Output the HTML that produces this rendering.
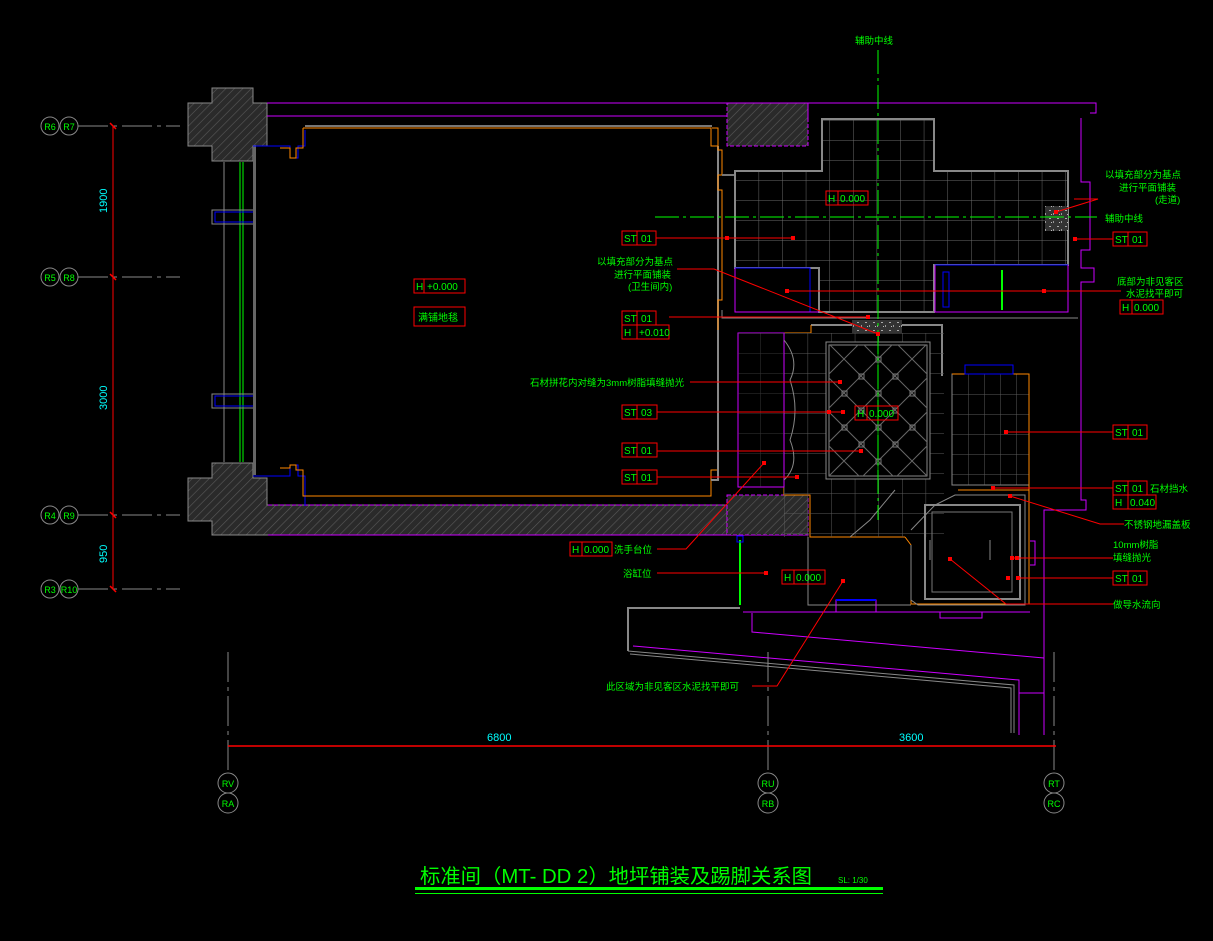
<!DOCTYPE html>
<html><head><meta charset="utf-8"><style>
html,body{margin:0;padding:0;background:#000;}
svg{display:block}
text{font-family:"Liberation Sans","Noto Sans CJK SC",sans-serif;fill:#00ff00}
.c{fill:#00ffff}
</style></head><body>
<svg width="1213" height="941" viewBox="0 0 1213 941" xmlns="http://www.w3.org/2000/svg" font-size="10">
<defs>
<pattern id="h" width="6" height="6" patternUnits="userSpaceOnUse" patternTransform="rotate(45)">
<rect width="6" height="6" fill="#2a2a2a"/><line x1="0" y1="0" x2="0" y2="6" stroke="#5a5a5a" stroke-width="1.2"/>
</pattern>
<pattern id="g" x="735" y="120" width="23.6" height="20" patternUnits="userSpaceOnUse">
<path d="M0 0H23.6M0 0V20" stroke="#6a6a6a" stroke-width="1" fill="none"/>
</pattern>
<pattern id="g2" x="784" y="333" width="23.6" height="20" patternUnits="userSpaceOnUse">
<path d="M0 0H23.6M0 0V20" stroke="#5a5a5a" stroke-width="1" fill="none"/>
</pattern>
<pattern id="g3" x="952" y="374" width="16" height="20" patternUnits="userSpaceOnUse">
<path d="M0 0H16M0 0V20" stroke="#5a5a5a" stroke-width="1" fill="none"/>
</pattern>
<clipPath id="dc"><rect x="829" y="345" width="98" height="131"/></clipPath>
<pattern id="n" width="8" height="8" patternUnits="userSpaceOnUse">
<rect width="8" height="8" fill="#333"/><rect x="1" y="2" width="2" height="1" fill="#aaa"/><rect x="5" y="5" width="1" height="2" fill="#999"/><rect x="3" y="6" width="1" height="1" fill="#bbb"/>
</pattern>
</defs>

<!-- left grid axes -->
<g stroke="#888" stroke-width="1" stroke-dasharray="30,5,4,5">
<line x1="78" y1="126" x2="180" y2="126"/><line x1="78" y1="277" x2="180" y2="277"/>
<line x1="78" y1="515" x2="180" y2="515"/><line x1="78" y1="589" x2="180" y2="589"/>
</g>
<line x1="113" y1="126" x2="113" y2="589" stroke="#ff0000"/>
<g stroke="#ff0000" stroke-width="1.5">
<line x1="110" y1="123" x2="116" y2="129"/><line x1="110" y1="274" x2="116" y2="280"/>
<line x1="110" y1="512" x2="116" y2="518"/><line x1="110" y1="586" x2="116" y2="592"/>
</g>
<text class="c" transform="translate(107,213) rotate(-90)" font-size="11">1900</text>
<text class="c" transform="translate(107,410) rotate(-90)" font-size="11">3000</text>
<text class="c" transform="translate(107,563) rotate(-90)" font-size="11">950</text>
<g fill="none" stroke="#888">
<circle cx="50" cy="126" r="9"/><circle cx="69" cy="126" r="9"/>
<circle cx="50" cy="277" r="9"/><circle cx="69" cy="277" r="9"/>
<circle cx="50" cy="515" r="9"/><circle cx="69" cy="515" r="9"/>
<circle cx="50" cy="589" r="9"/><circle cx="69" cy="589" r="9"/>
</g>
<g font-size="9" text-anchor="middle">
<text x="50" y="130">R6</text><text x="69" y="130">R7</text>
<text x="50" y="281">R5</text><text x="69" y="281">R8</text>
<text x="50" y="519">R4</text><text x="69" y="519">R9</text>
<text x="50" y="593">R3</text><text x="69" y="593">R10</text>
</g>

<!-- columns -->
<path d="M212 88H253V103H267V146H253V161H212V146H188V103H212Z" fill="url(#h)" stroke="#888"/>
<path d="M212 463H253V478H267V505H727V535H212V521H188V478H212Z" fill="url(#h)" stroke="#888"/>
<path d="M268 505H727" stroke="#cc00ff" stroke-dasharray="4,2"/>
<path d="M268 535H808" stroke="#cc00ff"/>
<rect x="727" y="103" width="81" height="43" fill="url(#h)" stroke="#cc00ff" stroke-dasharray="4,2"/>
<rect x="727" y="495" width="81" height="40" fill="url(#h)" stroke="#cc00ff" stroke-dasharray="4,2"/>
<path d="M267 103H1096V113H1090" fill="none" stroke="#cc00ff"/>
<path d="M267 116H727" stroke="#cc00ff"/>
<path d="M727 103H808V118" fill="none" stroke="#cc00ff"/>
<!-- window -->
<line x1="224" y1="162" x2="224" y2="462" stroke="#888"/>
<line x1="240" y1="162" x2="240" y2="462" stroke="#00ff00"/>
<line x1="243" y1="162" x2="243" y2="462" stroke="#00ff00"/>
<rect x="212" y="210" width="42" height="14" fill="none" stroke="#888"/>
<rect x="215" y="212" width="40" height="10" fill="none" stroke="#0000ff"/>
<rect x="212" y="394" width="42" height="14" fill="none" stroke="#888"/>
<rect x="215" y="396" width="40" height="10" fill="none" stroke="#0000ff"/>
<rect x="253" y="145" width="3" height="330" fill="#666"/>
<path d="M253 146H290V158H298V146H305V130" fill="none" stroke="#0000ff"/>
<path d="M253 476H290V465H298V476H305V506" fill="none" stroke="#0000ff"/>
<!-- bedroom -->
<path d="M303 128H711V146H718V160" fill="none" stroke="#ff8800"/>
<path d="M305 126H712" stroke="#777" stroke-width="2"/>
<path d="M280 148H290V158H296V148H303V128" fill="none" stroke="#ff8800"/>
<path d="M280 468H290V465H296V470H303V496H711V470H718" fill="none" stroke="#ff8800"/>
<path d="M718 146V480H711" fill="none" stroke="#888" stroke-width="2"/>
<path d="M712 128H718V150H722V175H718V190H722V300H718V330" fill="none" stroke="#ff8800"/>
<path d="M722 175H735" stroke="#777" stroke-width="2"/>

<!-- corridor tiles -->
<path d="M822 119H934V171H1068V265H934V312H819V268H735V171H822Z" fill="url(#g)" stroke="#888" stroke-width="2"/>
<rect x="735" y="268" width="75" height="44" fill="#000" stroke="#0000ff"/>
<path d="M735 268V312H819" fill="none" stroke="#cc00ff"/>
<rect x="935" y="265" width="133" height="47" fill="#000" stroke="#0000ff"/>
<path d="M935 265V312H1068V265" fill="none" stroke="#cc00ff"/>
<rect x="943" y="272" width="6" height="35" fill="none" stroke="#0000ff"/>
<line x1="1002" y1="270" x2="1002" y2="310" stroke="#00ff00" stroke-width="2"/>
<rect x="1045" y="206" width="23" height="25" fill="url(#n)"/>
<path d="M722 310V318H1078" fill="none" stroke="#888"/>

<!-- right magenta walls -->
<path d="M1081 118V182H1090V250H1081V268H1094V282H1081V500H1086V510H1044V735" fill="none" stroke="#cc00ff"/>
<path d="M1030 541H1035V565H1030" fill="none" stroke="#cc00ff"/>

<!-- bathroom -->
<path d="M811 325H942V376" fill="none" stroke="#888" stroke-width="2"/>
<path d="M811 325V333H784V495H810V537H905" fill="none" stroke="#ff8800"/>
<rect x="784" y="333" width="160" height="204" fill="url(#g2)"/>
<rect x="738" y="333" width="46" height="154" fill="#000" stroke="#cc00ff"/>
<rect x="738" y="333" width="46" height="154" fill="url(#g2)" opacity="0.6"/>
<path d="M784 340Q800 360 790 380Q800 410 790 440Q800 465 784 480" fill="none" stroke="#888"/>
<rect x="826" y="342" width="104" height="137" fill="#000" stroke="#888"/>
<rect x="829" y="345" width="98" height="131" fill="none" stroke="#888"/>
<g clip-path="url(#dc)" stroke="#666" fill="none">
<path d="M723 340L863 480M757 340L897 480M791 340L931 480M825 340L965 480M859 340L999 480M893 340L1033 480"/>
<path d="M863 340L723 480M897 340L757 480M931 340L791 480M965 340L825 480M999 340L859 480M1033 340L893 480"/>
<path d="M878 345V476" stroke="#00aa00"/>
</g>
<g fill="none" stroke="#777">
<rect x="876" y="357" width="5" height="5"/><rect x="859" y="374" width="5" height="5"/><rect x="893" y="374" width="5" height="5"/>
<rect x="842" y="391" width="5" height="5"/><rect x="876" y="391" width="5" height="5"/><rect x="910" y="391" width="5" height="5"/>
<rect x="859" y="408" width="5" height="5"/><rect x="893" y="408" width="5" height="5"/>
<rect x="842" y="425" width="5" height="5"/><rect x="876" y="425" width="5" height="5"/><rect x="910" y="425" width="5" height="5"/>
<rect x="859" y="442" width="5" height="5"/><rect x="893" y="442" width="5" height="5"/>
<rect x="876" y="459" width="5" height="5"/>
</g>
<rect x="852" y="320" width="50" height="13" fill="url(#n)"/>
<!-- shower -->
<rect x="952" y="374" width="77" height="111" fill="url(#g3)" stroke="#888"/>
<path d="M952 374H1029V510" fill="none" stroke="#ff8800"/>
<rect x="965" y="365" width="48" height="9" fill="none" stroke="#0000ff"/>
<!-- tub -->
<path d="M905 537L911 545V604H1029V490H958" fill="none" stroke="#ff8800"/>
<path d="M911 545V600L918 605H1025V495H955L935 505L911 530" fill="none" stroke="#888"/>
<path d="M925 505H1020V599H925V525Z" fill="none" stroke="#888" stroke-width="2"/>
<path d="M932 512H1012V592H932V530Z" fill="none" stroke="#777"/>
<line x1="930" y1="540" x2="930" y2="560" stroke="#888"/>
<line x1="990" y1="540" x2="990" y2="560" stroke="#888"/>
<path d="M808 537V605H911" fill="none" stroke="#888"/>
<path d="M895 490L870 520L850 537" fill="none" stroke="#888"/>
<rect x="836" y="600" width="40" height="12" fill="none" stroke="#cc00ff"/>
<line x1="836" y1="600" x2="876" y2="600" stroke="#0000ff" stroke-width="2"/>
<rect x="940" y="612" width="42" height="6" fill="none" stroke="#cc00ff"/>
<line x1="740" y1="540" x2="740" y2="605" stroke="#00ff00" stroke-width="2"/>
<rect x="737" y="536" width="6" height="6" fill="none" stroke="#0000ff"/>
<path d="M743 612H1030" stroke="#cc00ff"/>
<!-- bottom sloped area -->
<path d="M628 651V608H740" fill="none" stroke="#888" stroke-width="2"/>
<path d="M628 651L1014 685V733" fill="none" stroke="#888"/>
<path d="M630 654L1011 688V733" fill="none" stroke="#888"/>
<path d="M752 613V632L1044 658" fill="none" stroke="#cc00ff"/>
<path d="M633 646L1019 680V735" fill="none" stroke="#cc00ff"/>
<path d="M1019 693H1044" stroke="#cc00ff"/>

<!-- center lines -->
<line x1="878" y1="50" x2="878" y2="520" stroke="#00ff00" stroke-dasharray="24,4,3,4"/>
<line x1="655" y1="217" x2="1097" y2="217" stroke="#00ff00" stroke-dasharray="24,4,3,4"/>

<!-- bottom dimension -->
<g stroke="#888" stroke-dasharray="30,5,4,5">
<line x1="228" y1="652" x2="228" y2="775"/><line x1="768" y1="652" x2="768" y2="775"/><line x1="1054" y1="652" x2="1054" y2="775"/>
</g>
<line x1="228" y1="746" x2="1056" y2="746" stroke="#ff0000" stroke-width="1.5"/>
<text class="c" x="487" y="741" font-size="11">6800</text>
<text class="c" x="899" y="741" font-size="11">3600</text>
<g fill="none" stroke="#888">
<ellipse cx="228" cy="783" rx="10" ry="10"/><ellipse cx="228" cy="803" rx="10" ry="10"/>
<ellipse cx="768" cy="783" rx="10" ry="10"/><ellipse cx="768" cy="803" rx="10" ry="10"/>
<ellipse cx="1054" cy="783" rx="10" ry="10"/><ellipse cx="1054" cy="803" rx="10" ry="10"/>
</g>
<g font-size="9" text-anchor="middle">
<text x="228" y="787">RV</text><text x="228" y="807">RA</text>
<text x="768" y="787">RU</text><text x="768" y="807">RB</text>
<text x="1054" y="787">RT</text><text x="1054" y="807">RC</text>
</g>

<!-- title -->
<text x="420" y="883" font-size="20" textLength="392" lengthAdjust="spacingAndGlyphs">标准间（MT- DD 2）地坪铺装及踢脚关系图</text>
<text x="838" y="883" font-size="8">SL: 1/30</text>
<rect x="415" y="887" width="468" height="3" fill="#00ff00"/>
<rect x="415" y="893" width="468" height="1" fill="#00ff00"/>

<!-- leaders -->
<g stroke="#ff0000" fill="none">
<path d="M656 238H793"/><path d="M1075 239H1113"/>
<path d="M677 269H714L878 334"/><path d="M1074 199H1098L1056 212"/>
<path d="M787 291H1121"/>
<path d="M669 317H868"/>
<path d="M690 382H840"/>
<path d="M657 412H843"/>
<path d="M657 451H861"/>
<path d="M657 477H797"/>
<path d="M1006 432H1113"/>
<path d="M993 488H1113"/>
<path d="M1010 496L1100 524H1124"/>
<path d="M1012 558H1113"/>
<path d="M1018 578H1113"/>
<path d="M950 559L1006 604H1113"/>
<path d="M657 549H686L764 463"/>
<path d="M657 573H766"/>
<path d="M752 686H777L843 581"/>
</g>
<g fill="#ff0000">
<rect x="725" y="236" width="4" height="4"/><rect x="791" y="236" width="4" height="4"/>
<rect x="1073" y="237" width="4" height="4"/><rect x="1054" y="210" width="4" height="4"/>
<rect x="785" y="289" width="4" height="4"/><rect x="1042" y="289" width="4" height="4"/>
<rect x="866" y="315" width="4" height="4"/><rect x="876" y="332" width="4" height="4"/>
<rect x="838" y="380" width="4" height="4"/><rect x="827" y="410" width="4" height="4"/><rect x="841" y="410" width="4" height="4"/>
<rect x="859" y="449" width="4" height="4"/><rect x="795" y="475" width="4" height="4"/>
<rect x="1004" y="430" width="4" height="4"/><rect x="991" y="486" width="4" height="4"/><rect x="1008" y="494" width="4" height="4"/>
<rect x="1010" y="556" width="4" height="4"/><rect x="1015" y="556" width="4" height="4"/>
<rect x="1006" y="576" width="4" height="4"/><rect x="1016" y="576" width="4" height="4"/>
<rect x="948" y="557" width="4" height="4"/><rect x="762" y="461" width="4" height="4"/>
<rect x="764" y="571" width="4" height="4"/><rect x="841" y="579" width="4" height="4"/>
</g>

<!-- boxed labels -->
<g fill="none" stroke="#ff0000">
<rect x="622" y="231" width="34" height="14"/><line x1="637" y1="231" x2="637" y2="245"/>
<rect x="1113" y="232" width="34" height="14"/><line x1="1128" y1="232" x2="1128" y2="246"/>
<rect x="826" y="191" width="42" height="14"/><line x1="838" y1="191" x2="838" y2="205"/>
<rect x="1120" y="300" width="43" height="14"/><line x1="1132" y1="300" x2="1132" y2="314"/>
<rect x="622" y="311" width="34" height="14"/><line x1="637" y1="311" x2="637" y2="339"/>
<rect x="622" y="325" width="47" height="14"/>
<rect x="622" y="405" width="35" height="14"/><line x1="637" y1="405" x2="637" y2="419"/>
<rect x="855" y="406" width="43" height="14"/><line x1="867" y1="406" x2="867" y2="420"/>
<rect x="622" y="443" width="35" height="14"/><line x1="637" y1="443" x2="637" y2="457"/>
<rect x="622" y="470" width="35" height="14"/><line x1="637" y1="470" x2="637" y2="484"/>
<rect x="1113" y="425" width="34" height="14"/><line x1="1128" y1="425" x2="1128" y2="439"/>
<rect x="1113" y="481" width="34" height="14"/><line x1="1128" y1="481" x2="1128" y2="509"/>
<rect x="1113" y="495" width="43" height="14"/>
<rect x="1113" y="571" width="34" height="14"/><line x1="1128" y1="571" x2="1128" y2="585"/>
<rect x="570" y="542" width="42" height="14"/><line x1="582" y1="542" x2="582" y2="556"/>
<rect x="782" y="570" width="43" height="14"/><line x1="794" y1="570" x2="794" y2="584"/>
<rect x="414" y="279" width="51" height="14"/><line x1="424" y1="279" x2="424" y2="293"/>
<rect x="414" y="307" width="51" height="19"/>
</g>
<g font-size="10">
<text x="624" y="242">ST</text><text x="641" y="242">01</text>
<text x="1115" y="243">ST</text><text x="1132" y="243">01</text>
<text x="828" y="202">H</text><text x="840" y="202">0.000</text>
<text x="1122" y="311">H</text><text x="1134" y="311">0.000</text>
<text x="624" y="322">ST</text><text x="641" y="322">01</text>
<text x="624" y="336">H</text><text x="639" y="336">+0.010</text>
<text x="624" y="416">ST</text><text x="641" y="416">03</text>
<text x="857" y="417">H</text><text x="869" y="417">0.000</text>
<text x="624" y="454">ST</text><text x="641" y="454">01</text>
<text x="624" y="481">ST</text><text x="641" y="481">01</text>
<text x="1115" y="436">ST</text><text x="1132" y="436">01</text>
<text x="1115" y="492">ST</text><text x="1132" y="492">01</text>
<text x="1115" y="506">H</text><text x="1130" y="506">0.040</text>
<text x="1115" y="582">ST</text><text x="1132" y="582">01</text>
<text x="572" y="553">H</text><text x="584" y="553">0.000</text>
<text x="784" y="581">H</text><text x="796" y="581">0.000</text>
<text x="416" y="290">H</text><text x="427" y="290">+0.000</text>
<text x="418" y="321">满铺地毯</text>
</g>
<g font-size="9.5">
<text x="855" y="44">辅助中线</text>
<text x="1105" y="178">以填充部分为基点</text>
<text x="1119" y="191">进行平面铺装</text>
<text x="1155" y="203">(走道)</text>
<text x="1105" y="222">辅助中线</text>
<text x="597" y="265">以填充部分为基点</text>
<text x="614" y="278">进行平面铺装</text>
<text x="628" y="290">(卫生间内)</text>
<text x="1117" y="285">底部为非见客区</text>
<text x="1126" y="297">水泥找平即可</text>
<text x="530" y="386">石材拼花内对缝为3mm树脂填缝抛光</text>
<text x="1150" y="492">石材挡水</text>
<text x="1124" y="528">不锈钢地漏盖板</text>
<text x="1113" y="548">10mm树脂</text>
<text x="1113" y="561">填缝抛光</text>
<text x="1113" y="608">做导水流向</text>
<text x="614" y="553">洗手台位</text>
<text x="623" y="577">浴缸位</text>
<text x="606" y="690">此区域为非见客区水泥找平即可</text>
</g>
</svg>
</body></html>
